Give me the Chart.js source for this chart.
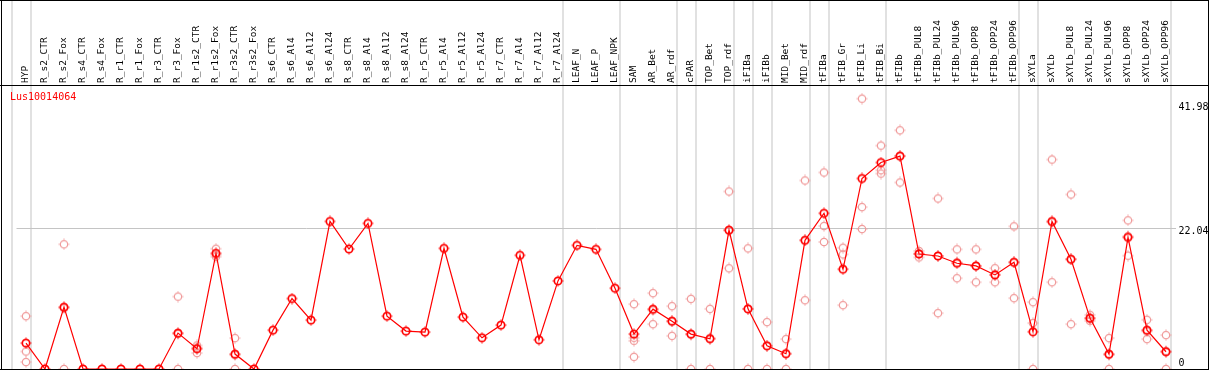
<!DOCTYPE html>
<html>
<head>
<meta charset="utf-8">
<script src="https://cdn.jsdelivr.net/npm/chart.js"></script>
<style>
  html, body { margin: 0; padding: 0; background: #fff; }
  #wrap { width: 1209px; height: 370px; }
</style>
</head>
<body>
<div id="wrap"><canvas id="expr" width="1209" height="370"></canvas></div>
<script>
const geneName = "Lus10014064";

const samples = [
    "HYP", "R_s2_CTR", "R_s2_Fox", "R_s4_CTR", "R_s4_Fox", "R_r1_CTR", "R_r1_Fox",
    "R_r3_CTR", "R_r3_Fox", "R_r1s2_CTR", "R_r1s2_Fox", "R_r3s2_CTR", "R_r3s2_Fox",
    "R_s6_CTR", "R_s6_Al4", "R_s6_Al12", "R_s6_Al24", "R_s8_CTR", "R_s8_Al4",
    "R_s8_Al12", "R_s8_Al24", "R_r5_CTR", "R_r5_Al4", "R_r5_Al12", "R_r5_Al24",
    "R_r7_CTR", "R_r7_Al4", "R_r7_Al12", "R_r7_Al24", "LEAF_N", "LEAF_P", "LEAF_NPK",
    "SAM", "AR_Bet", "AR_rdf", "cPAR", "TOP_Bet", "TOP_rdf", "iFIBa", "iFIBb",
    "MID_Bet", "MID_rdf", "tFIBa", "tFIB_Gr", "tFIB_Li", "tFIB_Bi", "tFIBb",
    "tFIBb_PUL8", "tFIBb_PUL24", "tFIBb_PUL96", "tFIBb_OPP8", "tFIBb_OPP24", "tFIBb_OPP96",
    "sXYLa", "sXYLb", "sXYLb_PUL8", "sXYLb_PUL24", "sXYLb_PUL96", "sXYLb_OPP8",
    "sXYLb_OPP24", "sXYLb_OPP96"
];

// mean expression per sample
const meanExpr = [
    4.06, 0, 9.69, 0, 0, 0, 0,
    0, 5.63, 3.17, 18.13, 2.34, 0,
    6.09, 11.04, 7.66, 23.13, 18.8, 22.82,
    8.28, 5.94, 5.78, 18.91, 8.13, 4.89,
    6.88, 17.82, 4.58, 13.8, 19.38, 18.75, 12.66,
    5.47, 9.38, 7.5, 5.47, 4.74, 21.77, 9.43, 3.64,
    2.39, 20.16, 24.4, 15.63, 29.85, 32.35, 33.35,
    18.02, 17.71, 16.57, 16.15, 14.74, 16.72,
    5.83, 23.13, 17.19, 7.97, 2.34, 20.63,
    6.09, 2.7
];

// replicates (null = no replicate drawn)
const rep1 = [
    8.28, null, 19.54, null, null, null, null,
    null, 11.35, 3.69, 18.85, 4.84, null,
    null, null, null, null, null, null,
    null, null, null, null, null, null,
    null, null, null, null, null, null, null,
    10.16, 11.88, 9.85, 10.99, 9.43, 27.82, 18.91, 7.35,
    4.69, 29.54, 30.79, 19.0, 42.36, 35.01, 37.4,
    18.49, 26.72, 18.75, 18.75, 15.79, 22.35,
    10.47, 32.82, 27.35, 8.49, 4.84, 23.29,
    7.71, 5.31
];
const rep2 = [
    2.75, null, 9.53, null, null, null, null,
    null, 5.5, 3.32, 17.94, 2.18, null,
    null, null, null, null, null, null,
    null, null, null, null, null, null,
    null, null, null, null, null, null, null,
    4.9, 9.2, 7.45, 5.4, 4.8, 21.7, 9.4, 3.6,
    2.4, 20.2, 22.4, 17.97, 25.37, 31.15, 33.42,
    18.1, 17.7, 16.7, 16.1, 14.8, 16.7,
    7.19, 23.0, 17.2, 7.9, 2.2, 20.8,
    5.9, 2.8
];
const rep3 = [
    1.09, null, 0, null, null, null, null,
    null, 0, 2.5, 17.6, 0, null,
    null, null, null, null, null, null,
    null, null, null, null, null, null,
    null, null, null, null, null, null, null,
    4.42, 7.03, 5.2, 0, 0, 15.78, 0, 0,
    0, 10.78, 19.9, 10.0, 21.93, 30.63, 29.23,
    17.5, 8.75, 14.22, 13.6, 13.6, 11.1,
    0, 13.6, 7.03, 7.55, 0, 17.76,
    4.69, 0
];
const rep4 = samples.map(s => s === "SAM" ? 1.9 : null);

const yTicks = [0, 22.04, 41.98];
const yMax = 44.5;

// a grey separator is drawn after these samples ("" = before the first one)
const groupEnds = ["", "HYP", "R_r7_Al24", "LEAF_NPK", "AR_rdf", "cPAR", "TOP_rdf",
    "iFIBa", "iFIBb", "MID_rdf", "tFIBa", "tFIB_Bi", "tFIBb_OPP96", "sXYLa", "sXYLb_OPP96"];

const MONO = "'DejaVu Sans Mono', monospace";

function ringMarker(color, width) {
    const c = document.createElement("canvas");
    c.width = 12;
    c.height = 12;
    const g = c.getContext("2d");
    g.strokeStyle = color;
    g.lineWidth = width;
    g.beginPath();
    g.arc(6, 6, 3.7, 0, Math.PI * 2);
    g.stroke();
    g.fillStyle = color;
    g.fillRect(5.5, 0.5, 1, 1.2);
    g.fillRect(5.5, 10.3, 1, 1.2);
    g.fillRect(0.5, 5.5, 1.2, 1);
    g.fillRect(10.3, 5.5, 1.2, 1);
    return c;
}

const meanMark = ringMarker("#ff0000", 1.7);
const repMark = ringMarker("#f09a9a", 1.2);

const framePlugin = {
    id: "frame",
    beforeDraw(chart) {
        const ctx = chart.ctx;
        ctx.save();
        ctx.fillStyle = "#ffffff";
        ctx.fillRect(0, 0, chart.width, chart.height);
        ctx.restore();
    },
    beforeDatasetsDraw(chart) {
        const ctx = chart.ctx;
        const x = chart.scales.x;
        const step = x.getPixelForValue(1) - x.getPixelForValue(0);
        ctx.save();
        ctx.fillStyle = "#c4c4c4";
        groupEnds.forEach(name => {
            const i = samples.indexOf(name);
            const px = x.getPixelForValue(0) + step * i + 4.5;
            ctx.fillRect(Math.round(px) - 0.5, 0, 1, chart.height);
        });
        ctx.restore();
    },
    afterDraw(chart) {
        const ctx = chart.ctx;
        const area = chart.chartArea;
        ctx.save();
        ctx.fillStyle = "#000000";
        ctx.fillRect(0, 0, chart.width, 1);
        ctx.fillRect(0, Math.round(area.top), chart.width, 1);
        ctx.fillRect(0, chart.height - 1, chart.width, 1);
        ctx.fillRect(1, 0, 1, chart.height);
        ctx.fillRect(chart.width - 1, 0, 1, chart.height);
        ctx.fillStyle = "#ff0000";
        ctx.font = "10px " + MONO;
        ctx.textBaseline = "middle";
        ctx.fillText(geneName, 10, 97);
        ctx.restore();
    }
};

function repSet(values) {
    return {
        label: "rep",
        data: values,
        showLine: false,
        pointStyle: repMark,
        pointRadius: 4,
        clip: false
    };
}

new Chart(document.getElementById("expr"), {
    type: "line",
    data: {
        labels: samples,
        datasets: [
            {
                label: geneName,
                data: meanExpr,
                borderColor: "#ff0000",
                borderWidth: 1.2,
                tension: 0,
                pointStyle: meanMark,
                pointRadius: 4,
                clip: false
            },
            repSet(rep1),
            repSet(rep2),
            repSet(rep3),
            repSet(rep4)
        ]
    },
    options: {
        responsive: false,
        animation: false,
        devicePixelRatio: 1,
        layout: {
            autoPadding: false,
            padding: { left: 16.5, right: 0, top: 0, bottom: 1 }
        },
        plugins: {
            legend: { display: false },
            tooltip: { enabled: false },
            title: { display: false }
        },
        scales: {
            x: {
                type: "category",
                position: "top",
                offset: true,
                afterFit(scale) {
                    scale.height = 85;
                    scale.paddingLeft = 0;
                    scale.paddingRight = 0;
                },
                grid: { display: false },
                border: { display: false },
                ticks: {
                    autoSkip: false,
                    minRotation: 90,
                    maxRotation: 90,
                    padding: -6,
                    labelOffset: 11,
                    color: "#000000",
                    font: { family: MONO, size: 9.5 }
                }
            },
            y: {
                position: "right",
                min: 0,
                max: yMax,
                afterBuildTicks(scale) {
                    scale.ticks = yTicks.map(v => ({ value: v }));
                },
                afterFit(scale) {
                    scale.width = 33.5;
                    scale.paddingTop = 0;
                    scale.paddingBottom = 0;
                },
                grid: {
                    drawTicks: false,
                    color: ctx => (ctx.tick && ctx.tick.value === 22.04) ? "#c4c4c4" : "rgba(0,0,0,0)"
                },
                border: { display: false },
                ticks: {
                    padding: 3,
                    color: "#000000",
                    font: ctx => ({
                        family: MONO,
                        size: 10,
                        lineHeight: (ctx.tick && ctx.tick.value === 22.04) ? 0.7 : 1.2
                    }),
                    callback: v => {
                        if (v === 0) return ["0", ""];
                        return ["", String(v)];
                    }
                }
            }
        }
    },
    plugins: [framePlugin]
});
</script>
</body>
</html>
